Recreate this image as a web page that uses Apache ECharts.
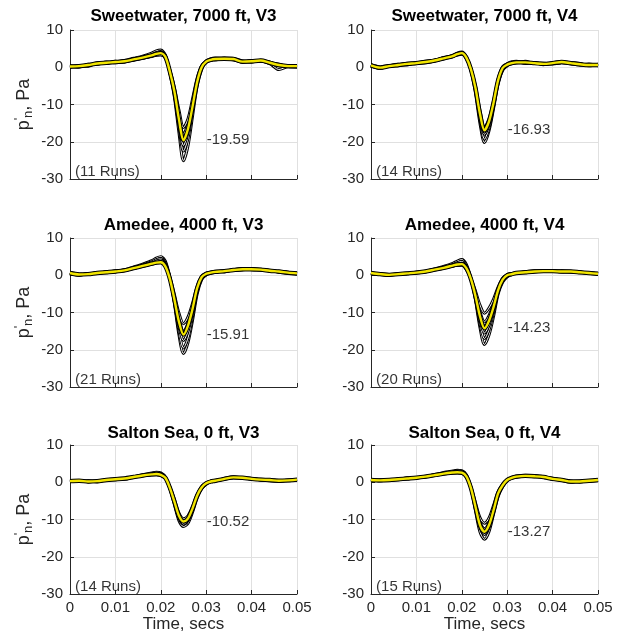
<!DOCTYPE html>
<html>
<head>
<meta charset="utf-8">
<script src="https://cdn.jsdelivr.net/npm/echarts@6/dist/echarts.min.js"></script>
<style>
html,body{margin:0;padding:0;background:#fff;}
#chart{width:625px;height:635px;}
</style>
</head>
<body>
<div id="chart"></div>
<script>
// ---- data ----
const xs = [0,0.002,0.004,0.006,0.008,0.010,0.012,0.014,0.016,0.018,
  0.019,0.020,0.021,0.022,0.023,0.024,0.025,0.026,0.027,0.028,0.029,0.030,0.031,0.032,
  0.034,0.036,0.038,0.040,0.042,0.044,0.046,0.048,0.050];

const titles = ['Sweetwater, 7000 ft, V3','Sweetwater, 7000 ft, V4','Amedee, 4000 ft, V3','Amedee, 4000 ft, V4','Salton Sea, 0 ft, V3','Salton Sea, 0 ft, V4'];
const minLabels = ['-19.59','-16.93','-15.91','-14.23','-10.52','-13.27'];
const minValues = [-19.59,-16.93,-15.91,-14.23,-10.52,-13.27];
const runCounts = [11,14,21,20,14,15];
const yTicks = [-30,-20,-10,0,10];
const xTicks = [0,0.01,0.02,0.03,0.04,0.05];

const sweetwaterV3Mean = [0.2,0.3,0.6,1.0,1.2,1.4,1.6,2.1,2.6,3.2, 3.6,3.8,2.8,-1.2,-6.5,-14,-19.59,-16.5,-10.5,-4,0,1.5,2.0,2.2, 2.3,2.2,1.5,1.6,1.8,1.2,0.6,0.3,0.3];
const sweetwaterV3Runs = [
  [0.0,0.2,0.4,1.1,1.0,1.5,1.8,2.4,3.0,3.8, 4.4,4.6,3.3,-1.5,-8,-17.5,-25.1,-21,-13,-5,-0.5,1.6,2.3,2.5, 2.4,2.0,1.4,1.5,1.7,1.0,-0.6,0.2,0.5],
  [0.4,0.0,0.8,0.8,1.4,1.2,1.5,2.0,2.8,3.4, 3.9,4.2,3.1,-1.4,-7.2,-16,-22.5,-19,-11.5,-4.5,-0.2,1.3,2.1,2.0, 2.5,2.4,1.7,1.4,1.9,1.3,0.8,0.1,0.0],
  [0.1,0.5,0.3,1.2,1.1,1.6,1.4,2.3,2.5,3.0, 3.5,4.0,3.0,-1.3,-7,-15,-21,-17.5,-11,-4.2,0.2,1.7,1.9,2.3, 2.1,2.3,1.3,1.8,1.6,1.4,0.4,0.4,0.2],
  [0.3,0.2,0.7,0.9,1.3,1.3,1.7,1.9,2.4,3.0, 3.3,3.5,2.6,-1.0,-6,-13,-18,-15,-9.5,-3.5,0.3,1.4,1.9,2.0, 2.2,2.0,1.6,1.5,1.7,1.1,0.7,0.3,0.4],
  [0.2,0.4,0.5,1.0,1.2,1.4,1.5,2.0,2.5,2.9, 3.2,3.3,2.5,-0.8,-5.5,-11.5,-16.2,-13.8,-8.5,-3,0.4,1.5,2.0,2.1, 2.3,2.1,1.5,1.7,1.8,1.2,0.6,0.3,0.2]
];

const sweetwaterV4Mean = [0.5,-0.1,0.3,0.6,0.9,1.1,1.4,1.8,2.4,3.0, 3.5,3.8,2.6,-0.5,-5.5,-12.5,-16.93,-14.5,-9.5,-3.5,-0.2,0.7,1.1,1.3, 1.3,1.1,0.9,1.1,1.4,1.1,0.8,0.6,0.6];
const sweetwaterV4Runs = [
  [0.7,0.1,0.5,0.5,1.1,1.0,1.6,1.9,2.5,3.2, 3.8,4.1,2.8,-0.8,-6.8,-15,-20.2,-17,-11,-4.5,-0.8,0.4,1.3,1.6, 1.0,1.3,0.7,1.2,1.5,1.0,0.6,0.9,0.4],
  [0.3,-0.3,0.4,0.8,0.6,1.3,1.2,1.7,2.3,2.9, 3.4,3.7,2.4,-0.7,-6.2,-14,-19.3,-16.3,-10.5,-4.2,-0.6,0.9,1.5,1.2, 1.6,1.0,1.1,0.9,1.2,1.3,1.0,0.4,0.8],
  [0.6,0.0,0.2,0.7,1.0,1.2,1.5,1.8,2.6,3.1, 3.6,3.9,2.7,-0.4,-5.8,-13.2,-18.0,-15.4,-10,-3.8,-0.3,0.6,1.0,1.4, 1.2,1.2,0.8,1.0,1.3,0.9,0.9,0.5,0.5],
  [0.4,-0.2,0.3,0.4,0.8,1.0,1.3,1.9,2.3,3.0, 3.4,3.6,2.5,-0.5,-5.6,-12.8,-17.4,-14.8,-9.7,-3.6,-0.1,0.8,1.2,1.5, 1.4,1.0,1.0,1.2,1.5,1.2,0.7,0.7,0.7],
  [0.5,-0.1,0.4,0.6,0.9,1.1,1.4,1.7,2.4,2.9, 3.3,3.5,2.4,-0.4,-5.0,-11.6,-16.2,-13.8,-9.0,-3.2,0.1,0.9,1.0,1.2, 1.3,1.1,0.9,1.0,1.3,1.1,0.8,0.6,0.6]
];

const amedeeV3Mean = [0.6,0.2,0.3,0.6,0.8,1.0,1.3,1.9,2.5,3.1, 3.4,3.5,2.4,-1.0,-6.5,-12.5,-15.91,-13.5,-9.0,-3.5,-0.5,0.4,0.7,0.9, 1.1,1.4,1.6,1.6,1.5,1.2,1.0,0.7,0.5];
const amedeeV3Runs = [
  [0.5,0.0,0.5,0.5,0.9,1.1,1.5,2.2,3.0,3.9, 4.6,5.0,3.8,-0.6,-7.5,-16,-21,-18,-12,-5,-1.2,0.2,0.6,1.0, 1.0,1.5,1.8,1.8,1.5,1.3,0.8,0.5,0.3],
  [0.8,0.3,0.2,0.7,0.7,1.2,1.2,2.0,2.8,3.6, 4.2,4.5,3.3,-0.8,-7.2,-15,-19.5,-16.8,-11,-4.5,-0.9,0.1,0.5,0.8, 1.2,1.3,1.5,1.7,1.6,1.1,1.1,0.8,0.6],
  [0.4,0.1,0.4,0.5,0.9,0.9,1.4,1.8,2.6,3.3, 3.8,4.1,3.0,-0.9,-6.8,-13.8,-17.5,-15,-10,-4,-0.7,0.3,0.8,1.1, 0.9,1.5,1.7,1.5,1.4,1.3,0.9,0.6,0.4],
  [0.7,0.2,0.3,0.7,0.8,1.0,1.3,1.9,2.4,3.0, 3.3,3.5,2.5,-0.8,-6,-11.8,-15,-12.8,-8.5,-3.3,-0.4,0.5,0.8,0.9, 1.2,1.4,1.6,1.6,1.5,1.2,1.0,0.7,0.5],
  [0.6,0.2,0.4,0.6,0.8,1.0,1.3,1.9,2.5,3.1, 3.4,3.6,2.6,-0.5,-5.2,-10.2,-13,-11.2,-7.5,-3,-0.3,0.5,0.7,1.0, 1.1,1.4,1.5,1.6,1.5,1.2,1.0,0.7,0.5]
];

const amedeeV4Mean = [0.6,0.3,0.1,0.3,0.5,0.7,1.0,1.5,2.0,2.6, 2.9,3.0,1.9,-1.0,-5.5,-11,-14.23,-12.2,-8.5,-4,-1.2,0.0,0.3,0.6, 0.8,1.0,1.1,1.1,1.0,1.0,0.8,0.6,0.4];
const amedeeV4Runs = [
  [0.5,0.2,0.2,0.4,0.4,0.8,1.1,1.7,2.4,3.2, 3.8,4.2,2.9,-0.8,-6.5,-14,-18.6,-16,-11,-5,-1.8,-0.4,0.2,0.5, 0.9,1.2,1.0,1.3,1.1,0.9,0.9,0.5,0.2],
  [0.7,0.3,0.0,0.3,0.6,0.6,1.0,1.6,2.2,2.9, 3.4,3.7,2.5,-0.9,-6.2,-13,-17,-14.6,-10,-4.6,-1.5,-0.2,0.3,0.6, 0.7,1.0,1.2,1.0,1.2,1.1,0.7,0.7,0.5],
  [0.6,0.4,0.2,0.2,0.5,0.8,0.9,1.5,2.1,2.7, 3.0,3.2,2.1,-1.0,-5.8,-12,-15.5,-13.4,-9.2,-4.3,-1.3,-0.1,0.4,0.7, 0.8,0.9,1.1,1.1,0.9,1.0,0.8,0.6,0.4],
  [0.6,0.2,0.1,0.4,0.5,0.7,1.0,1.4,1.9,2.5, 2.7,2.8,1.7,-1.0,-5.0,-9.8,-12.5,-10.8,-7.6,-3.7,-1.0,0.1,0.4,0.6, 0.9,1.1,1.2,1.2,1.0,1.0,0.8,0.6,0.4],
  [0.5,0.3,0.1,0.3,0.4,0.7,1.0,1.5,2.0,2.5, 2.7,2.7,1.6,-0.8,-4.2,-8.0,-10.2,-8.8,-6.4,-3.2,-0.8,0.2,0.5,0.7, 0.8,1.0,1.1,1.1,1.0,0.9,0.8,0.6,0.4]
];

const saltonV3Mean = [0.3,0.4,0.2,0.3,0.6,0.8,1.0,1.4,1.8,2.1, 2.2,2.0,1.2,-1.5,-5.2,-9.0,-10.52,-9.7,-7.0,-3.6,-1.4,-0.3,0.2,0.4, 0.9,1.3,1.2,0.9,0.7,0.6,0.4,0.5,0.7];
const saltonV3Runs = [
  [0.5,0.2,0.4,0.1,0.7,0.9,0.8,1.5,2.0,2.5, 2.7,2.5,1.4,-1.7,-6.0,-10.3,-11.9,-11.0,-8.0,-4.2,-1.7,-0.5,0.1,0.3, 1.0,1.5,1.1,1.0,0.6,0.4,0.2,0.6,0.5],
  [0.2,0.5,0.1,0.4,0.5,0.9,1.1,1.3,1.9,2.3, 2.5,2.3,1.3,-1.6,-5.6,-9.7,-11.2,-10.3,-7.5,-3.9,-1.6,-0.4,0.3,0.5, 0.8,1.3,1.3,0.8,0.8,0.7,0.5,0.4,0.8],
  [0.4,0.3,0.3,0.2,0.6,0.7,1.0,1.5,1.7,2.0, 2.1,1.9,1.1,-1.4,-5.0,-8.9,-10.5,-9.6,-6.9,-3.5,-1.3,-0.2,0.2,0.3, 0.9,1.2,1.2,1.0,0.7,0.6,0.4,0.5,0.6],
  [0.3,0.4,0.2,0.3,0.6,0.8,1.0,1.4,1.8,2.0, 2.0,1.8,1.0,-1.3,-4.6,-8.3,-9.8,-9.0,-6.5,-3.3,-1.2,-0.2,0.3,0.5, 0.9,1.2,1.1,0.9,0.7,0.5,0.4,0.5,0.7]
];

const saltonV4Mean = [0.6,0.5,0.6,0.8,1.0,1.2,1.5,1.9,2.3,2.6, 2.7,2.6,1.6,-1.5,-6.5,-11.5,-13.27,-11.5,-7.5,-3.0,-0.8,0.6,1.2,1.5, 1.7,1.6,1.4,0.9,0.6,0.2,0.2,0.4,0.6];
const saltonV4Runs = [
  [0.8,0.4,0.7,0.7,1.2,1.1,1.6,2.0,2.6,3.0, 3.2,3.1,2.0,-1.5,-7.5,-13.3,-15.3,-13.2,-8.5,-3.8,-1.2,0.4,1.3,1.7, 1.9,1.8,1.3,1.1,0.5,0.0,0.3,0.3,0.5],
  [0.5,0.7,0.5,0.9,0.9,1.3,1.4,2.1,2.4,2.8, 3.0,2.9,1.8,-1.6,-7.0,-12.2,-14.0,-12.2,-8.0,-3.4,-1.0,0.5,1.1,1.4, 1.8,1.7,1.5,0.8,0.7,0.3,0.1,0.5,0.7],
  [0.6,0.4,0.6,0.8,1.1,1.2,1.5,1.8,2.2,2.5, 2.6,2.5,1.5,-1.4,-6.2,-10.8,-12.5,-10.8,-6.9,-2.8,-0.7,0.7,1.2,1.5, 1.6,1.5,1.4,1.0,0.6,0.2,0.3,0.4,0.6],
  [0.7,0.5,0.5,0.8,1.0,1.2,1.5,1.9,2.3,2.5, 2.5,2.4,1.4,-1.2,-5.5,-9.5,-11.0,-9.6,-6.2,-2.5,-0.5,0.7,1.1,1.4, 1.6,1.6,1.3,0.9,0.6,0.3,0.2,0.4,0.6]
];

const means = [sweetwaterV3Mean, sweetwaterV4Mean, amedeeV3Mean, amedeeV4Mean, saltonV3Mean, saltonV4Mean];
const runs = [sweetwaterV3Runs, sweetwaterV4Runs, amedeeV3Runs, amedeeV4Runs, saltonV3Runs, saltonV4Runs];

// ---- layout / style ----
const FONT = '"Liberation Sans", Arial, Helvetica, sans-serif';
const AX = '#262626';
const colLeft = [70, 371];
const rowTop = [30, 238, 445];
const gridW = 227, gridH = 149;
const titleTop = [8, 217, 425];

const grids = [], xAxes = [], yAxes = [], series = [], titleList = [];
for (let i = 0; i < 6; i++) {
  const col = i % 2, row = Math.floor(i / 2);
  grids.push({left: colLeft[col], top: rowTop[row], width: gridW, height: gridH, containLabel: false});
  titleList.push({
    text: titles[i], left: colLeft[col] + gridW / 2, top: titleTop[row], textAlign: 'center', padding: 0,
    textStyle: {fontFamily: FONT, fontSize: 17, fontWeight: 'bold', color: '#000'}
  });
  const bottomRow = row === 2;
  xAxes.push({
    type: 'value', gridIndex: i, min: xTicks[0], max: xTicks[xTicks.length - 1], interval: 0.01,
    axisLine: {show: true, onZero: false, lineStyle: {color: AX, width: 1}},
    axisTick: {show: true, inside: true, length: 4, lineStyle: {color: AX}},
    splitLine: {show: true, lineStyle: {color: '#e0e0e0', width: 1}},
    axisLabel: {show: bottomRow, color: AX, fontFamily: FONT, fontSize: 15, margin: 6,
      formatter: v => String(+v.toFixed(2))},
    name: bottomRow ? 'Time, secs' : '', nameLocation: 'middle', nameGap: 21,
    nameTextStyle: {color: AX, fontFamily: FONT, fontSize: 17}
  });
  yAxes.push({
    type: 'value', gridIndex: i, min: yTicks[0], max: yTicks[yTicks.length - 1], interval: 10,
    axisLine: {show: true, onZero: false, lineStyle: {color: AX, width: 1}},
    axisTick: {show: true, inside: true, length: 4, lineStyle: {color: AX}},
    splitLine: {show: true, lineStyle: {color: '#e0e0e0', width: 1}},
    axisLabel: {show: true, color: AX, fontFamily: FONT, fontSize: 15, margin: 7},
    name: col === 0 ? '{p|p}{s|\'}{n|n}{p|, Pa}' : '', nameLocation: 'middle', nameRotate: 90, nameGap: 35,
    nameTextStyle: {color: AX, fontFamily: FONT, fontSize: 18,
      rich: {
        p: {fontSize: 18, fontFamily: FONT, color: AX, lineHeight: 22},
        s: {fontSize: 13, fontFamily: FONT, color: AX, lineHeight: 16, verticalAlign: 'top'},
        n: {fontSize: 13, fontFamily: FONT, color: AX, lineHeight: 13, verticalAlign: 'bottom'}
      }}
  });
  runs[i].forEach(r => {
    const d = xs.map((x, k) => [x, r[k]]);
    series.push({type: 'line', xAxisIndex: i, yAxisIndex: i, data: d, symbol: 'none', smooth: 0.3, silent: true,
      lineStyle: {color: '#000', width: 3}});
    series.push({type: 'line', xAxisIndex: i, yAxisIndex: i, data: d, symbol: 'none', smooth: 0.3, silent: true,
      lineStyle: {color: '#fff', width: 1}});
  });
  const md = xs.map((x, k) => [x, means[i][k]]);
  series.push({type: 'line', xAxisIndex: i, yAxisIndex: i, data: md, symbol: 'none', smooth: 0.3, silent: true,
    lineStyle: {color: '#000', width: 4.4}});
  series.push({type: 'line', xAxisIndex: i, yAxisIndex: i, data: md, symbol: 'none', smooth: 0.3, silent: true,
    lineStyle: {color: '#f2e600', width: 2.4}});
  series.push({type: 'scatter', xAxisIndex: i, yAxisIndex: i, symbolSize: 1, silent: true,
    itemStyle: {color: 'rgba(0,0,0,0)'},
    data: [[0.0300, minValues[i], minLabels[i]], [0.001, -28, '(' + runCounts[i] + ' Runs)']],
    label: {show: true, position: 'right', distance: 0, formatter: p => p.value[2],
      color: '#000', fontFamily: FONT, fontSize: 15}});
}

const chart = echarts.init(document.getElementById('chart'), null, {renderer: 'canvas'});
chart.setOption({
  animation: false,
  backgroundColor: '#fff',
  title: titleList,
  grid: grids,
  xAxis: xAxes,
  yAxis: yAxes,
  series: series
});
</script>
</body>
</html>
